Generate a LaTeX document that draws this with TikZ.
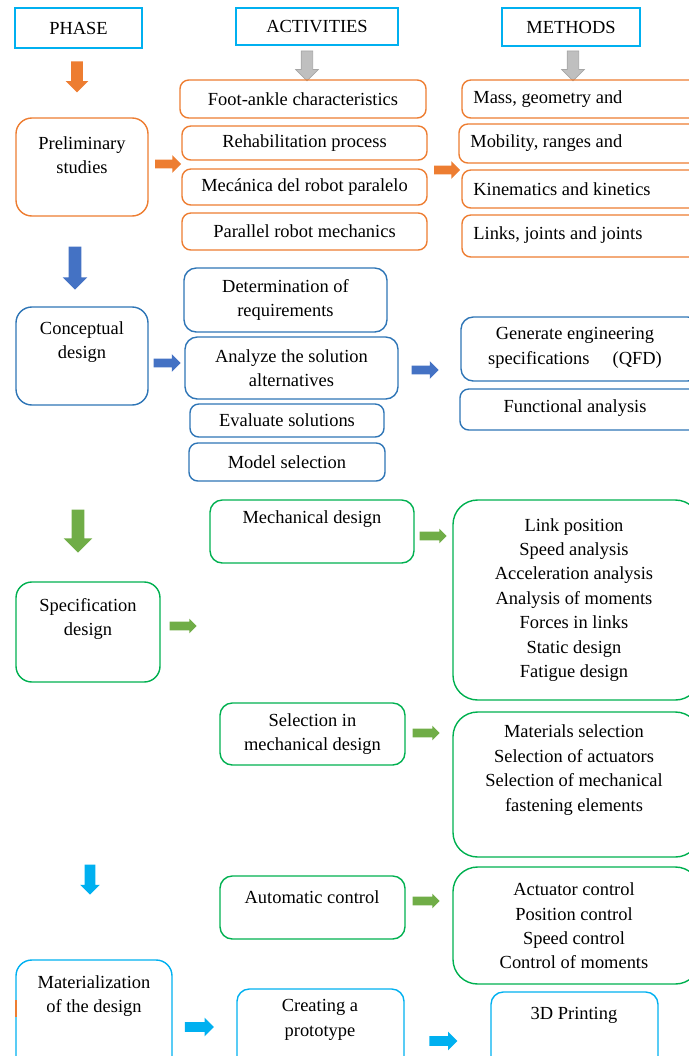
\documentclass[tikz,border=0pt]{standalone}
\usepackage{fontspec}
\setmainfont{Liberation Serif}
\usetikzlibrary{shapes.arrows,fit}

\definecolor{orng}{RGB}{237,125,49}
\definecolor{bluebd}{RGB}{46,117,182}
\definecolor{bluear}{RGB}{68,114,196}
\definecolor{grnbd}{RGB}{0,176,80}
\definecolor{grnar}{RGB}{112,173,71}
\definecolor{cyn}{RGB}{0,176,240}
\definecolor{gryar}{RGB}{191,191,191}

\begin{document}
\begin{tikzpicture}[x=0.02cm, y=-0.02cm,
    txt/.style={font=\fontsize{10.5}{13.9}\selectfont, align=center, inner sep=0pt},
    head/.style={draw=cyn, line width=1pt, inner sep=0pt},
    obox/.style={draw=orng, line width=0.8pt, rounded corners=5pt, inner sep=0pt},
    bbox/.style={draw=bluebd, line width=0.8pt, rounded corners=5pt, inner sep=0pt},
    gbox/.style={draw=grnbd, line width=0.8pt, rounded corners=7pt, inner sep=0pt},
    cbox/.style={draw=cyn, line width=0.8pt, rounded corners=7pt, inner sep=0pt},
    darr/.style={single arrow, rotate=-90, draw=none, inner xsep=0pt,
                 inner ysep=0.11cm, single arrow head extend=0.11cm, minimum height=0.62cm},
    rarr/.style={single arrow, draw=none, inner xsep=0pt,
                 inner ysep=0.08cm, single arrow head extend=0.09cm, minimum height=0.54cm}]

\useasboundingbox (0,0) rectangle (689,1056);
\clip (0,0) rectangle (689,1056);

% column heads
\node[head, fit={(15,8) (142,48)}] (phase) {};
\node[head, fit={(236,8) (398,45)}] (activ) {};
\node[head, fit={(502,8) (640,46)}] (meth) {};
\node[txt] (phase-t) at (phase) {PHASE};
\node[txt] (activ-t) at (activ) {ACTIVITIES};
\node[txt] (meth-t) at (meth) {METHODS};

\node[darr, fill=gryar, draw=gray!70, line width=0.4pt, minimum height=0.6cm] (ga1) at (307,63) {};
\node[darr, fill=gryar, draw=gray!70, line width=0.4pt, minimum height=0.6cm] (ga2) at (573,63) {};

% preliminary studies
\node[darr, fill=orng] (oa1) at (77,74) {};
\node[obox, rounded corners=9pt, fit={(16,118) (148,216)}] (prelim) {};
\node[txt] (prelim-t) at (82,155) {Preliminary\\studies};
\node[rarr, fill=orng, minimum height=0.52cm] (oa2) at (166,164) {};

\node[obox, fit={(180,80) (426,118)}] (foot) {};
\node[obox, fit={(182,126) (427,160)}] (rehab) {};
\node[obox, fit={(182,169) (427,205)}] (mecan) {};
\node[obox, fit={(182,213) (427,250)}] (parob) {};
\node[txt] (foot-t) at (foot) {Foot-ankle characteristics};
\node[txt] (rehab-t) at (rehab) {Rehabilitation process};
\node[txt] (mecan-t) at (mecan) {Mecánica del robot paralelo};
\node[txt] (parob-t) at (parob) {Parallel robot mechanics};

\node[rarr, fill=orng, minimum height=0.52cm] (oa3) at (445,170) {};

\node[obox, fit={(462,80) (700,118)}] (mass) {};
\node[obox, fit={(459,124) (700,163)}] (mobil) {};
\node[obox, fit={(462,170) (700,208)}] (kinem) {};
\node[obox, fit={(462,215) (700,257)}] (links) {};
\node[txt, anchor=west] (mass-t) at (473,99) {Mass, geometry and};
\node[txt, anchor=west] (mobil-t) at (470,143) {Mobility, ranges and};
\node[txt, anchor=west] (kinem-t) at (473,189) {Kinematics and kinetics};
\node[txt, anchor=west] (links-t) at (473,235) {Links, joints and joints};

% conceptual design
\node[darr, fill=bluear, inner ysep=0.12cm, single arrow head extend=0.12cm, minimum height=0.86cm] (ba1) at (75,265) {};
\node[bbox, rounded corners=9pt, fit={(16,307) (148,405)}] (concep) {};
\node[txt] (concep-t) at (82,342) {Conceptual\\design};
\node[rarr, fill=bluear] (ba2) at (165,363) {};

\node[bbox, rounded corners=7pt, fit={(184,268) (387,332)}] (deter) {};
\node[txt] (deter-t) at (deter) {Determination of\\requirements};
\node[bbox, rounded corners=7pt, fit={(185,337) (398,399)}] (analy) {};
\node[txt] (analy-t) at (analy) {Analyze the solution\\alternatives};
\node[bbox, fit={(190,404) (384,437)}] (evalu) {};
\node[txt] (evalu-t) at (evalu) {Evaluate solutions};
\node[bbox, fit={(189,443) (385,481)}] (model) {};
\node[txt] (model-t) at (model) {Model selection};

\node[rarr, fill=bluear] (ba3) at (423,370) {};

\node[bbox, rounded corners=7pt, fit={(461,317) (700,381)}] (gener) {};
\node[txt] (gener-t) at (575,348) {Generate engineering\\specifications \quad(QFD)};
\node[bbox, fit={(460,389) (700,430)}] (funct) {};
\node[txt] (funct-t) at (575,408) {Functional analysis};

% specification design
\node[darr, fill=grnar, inner ysep=0.12cm, single arrow head extend=0.16cm, minimum height=0.86cm] (ga3) at (78,528) {};
\node[gbox, rounded corners=9pt, fit={(16,582) (160,682)}] (specif) {};
\node[txt] (specif-t) at (88,619) {Specification\\design};
\node[rarr, fill=grnar, single arrow head extend=0.06cm] (ra1) at (181,626) {};

\node[gbox, fit={(210,500) (414,563)}] (mecha) {};
\node[txt] (mecha-t) at (312,519) {Mechanical design};
\node[rarr, fill=grnar, single arrow head extend=0.06cm] (ra2) at (431,536) {};
\node[gbox, rounded corners=14pt, fit={(453,500) (700,700)}] (lnkpos) {};
\node[txt] (lnkpos-t) at (574,600) {Link position\\Speed analysis\\Acceleration analysis\\Analysis of moments\\Forces in links\\Static design\\Fatigue design};

\node[gbox, fit={(220,703) (405,765)}] (selec) {};
\node[txt] (selec-t) at (selec) {Selection in\\mechanical design};
\node[rarr, fill=grnar, single arrow head extend=0.06cm] (ra3) at (424,733) {};
\node[gbox, rounded corners=14pt, fit={(453,712) (700,857)}] (mater) {};
\node[txt] (mater-t) at (574,770) {Materials selection\\Selection of actuators\\Selection of mechanical\\fastening elements};

\node[gbox, fit={(220,876) (405,939)}] (autom) {};
\node[txt] (autom-t) at (312,897) {Automatic control};
\node[rarr, fill=grnar, single arrow head extend=0.06cm] (ra4) at (424,901) {};
\node[gbox, rounded corners=14pt, fit={(453,867) (700,984)}] (actua) {};
\node[txt] (actua-t) at (574,926) {Actuator control\\Position control\\Speed control\\Control of moments};

% materialization
\node[darr, fill=cyn, inner ysep=0.1cm, single arrow head extend=0.09cm, minimum height=0.6cm] (ca1) at (90,877) {};
\node[cbox, rounded corners=9pt, fit={(16,960) (172,1080)}] (materz) {};
\node[txt] (materz-t) at (94,996) {Materialization\\of the design};
\draw[orng, line width=1pt] (16,1000) -- (16,1017);
\node[rarr, fill=cyn, inner ysep=0.09cm, minimum height=0.58cm] (ca2) at (197,1027) {};

\node[cbox, fit={(237,989) (404,1080)}] (creat) {};
\node[txt] (creat-t) at (320,1020) {Creating a\\prototype};
\node[rarr, fill=cyn, inner ysep=0.09cm, minimum height=0.56cm] (ca3) at (441,1041) {};
\node[cbox, fit={(491,992) (658,1080)}] (print) {};
\node[txt] (print-t) at (574,1015) {3D Printing};

\end{tikzpicture}
\end{document}
